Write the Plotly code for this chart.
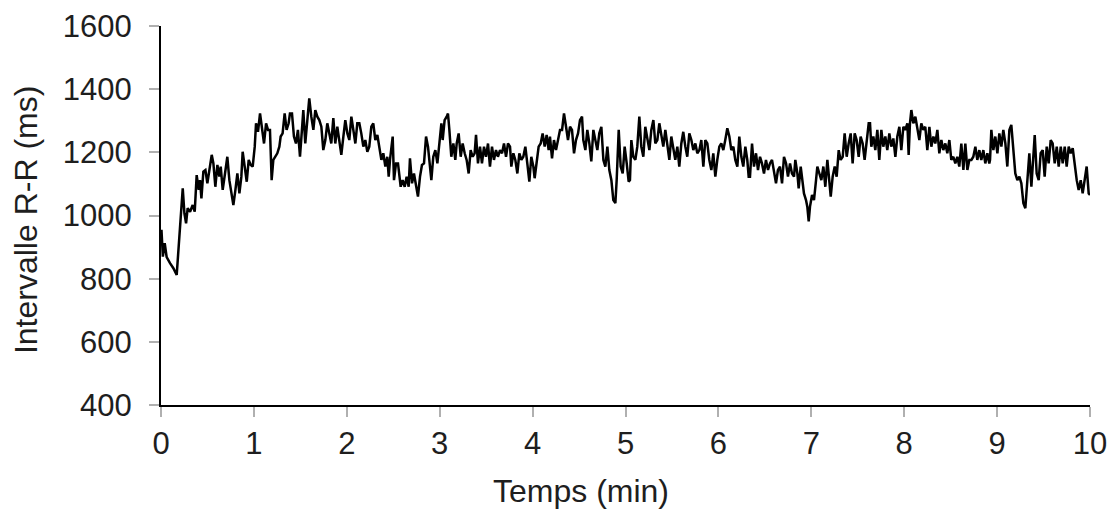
import plotly.graph_objects as go

# Time (min) and R-R interval (ms)
time_min = [
    0.005, 0.020, 0.040, 0.061, 0.097, 0.133, 0.169, 0.198, 0.234, 0.252, 0.270, 0.287,
    0.313, 0.341, 0.363, 0.384, 0.406, 0.420, 0.435, 0.456, 0.478, 0.499, 0.521, 0.546,
    0.564, 0.585, 0.607, 0.628, 0.643, 0.664, 0.689, 0.714, 0.736, 0.757, 0.779, 0.801,
    0.822, 0.844, 0.865, 0.879, 0.901, 0.923, 0.944, 0.966, 0.987, 1.009, 1.023, 1.044,
    1.066, 1.088, 1.109, 1.131, 1.152,
    1.173, 1.191, 1.209, 1.227, 1.252, 1.274, 1.288, 1.309, 1.331, 1.352, 1.374, 1.388,
    1.410, 1.431, 1.453, 1.474, 1.496, 1.517, 1.532, 1.553, 1.575, 1.596, 1.618, 1.640,
    1.661, 1.683, 1.704, 1.726, 1.747, 1.769, 1.790, 1.812, 1.833, 1.855, 1.876, 1.898,
    1.920, 1.941, 1.963, 1.984, 2.006, 2.027, 2.049, 2.070, 2.092, 2.113, 2.135, 2.156,
    2.178, 2.199, 2.221, 2.242, 2.264, 2.285, 2.307, 2.329, 2.350, 2.372, 2.393, 2.415,
    2.436, 2.451,
    2.465, 2.494, 2.508, 2.530, 2.551, 2.566, 2.580, 2.601, 2.623, 2.644, 2.666, 2.680,
    2.702, 2.723, 2.745, 2.766, 2.788, 2.809, 2.831, 2.853, 2.874, 2.896, 2.910, 2.931,
    2.953, 2.975, 2.996, 3.018, 3.032, 3.053, 3.075, 3.089, 3.104, 3.125, 3.147, 3.168,
    3.183, 3.204, 3.226, 3.247, 3.269, 3.290, 3.312, 3.333, 3.355, 3.376, 3.391, 3.412,
    3.434, 3.455, 3.477, 3.498, 3.520, 3.541, 3.563, 3.584, 3.606, 3.627, 3.649, 3.671,
    3.692, 3.714, 3.735,
    3.757, 3.771, 3.793, 3.814, 3.836, 3.857, 3.879, 3.900, 3.922, 3.943, 3.965, 3.986,
    4.008, 4.022, 4.044, 4.065, 4.087, 4.108, 4.130, 4.151, 4.173, 4.187, 4.209, 4.230,
    4.252, 4.274, 4.295, 4.317, 4.338, 4.360, 4.381, 4.403, 4.424, 4.446, 4.467, 4.489,
    4.510, 4.532, 4.546, 4.568, 4.589, 4.611, 4.632, 4.654, 4.675, 4.697, 4.718, 4.740,
    4.762, 4.783, 4.805, 4.826, 4.848, 4.869, 4.891, 4.905, 4.927, 4.948, 4.970, 4.991,
    5.013, 5.034,
    5.048, 5.063, 5.084, 5.106, 5.127, 5.149, 5.170, 5.192, 5.213, 5.235, 5.257, 5.278,
    5.300, 5.321, 5.343, 5.364, 5.386, 5.407, 5.429, 5.450, 5.472, 5.493, 5.515, 5.536,
    5.558, 5.579, 5.601, 5.622, 5.644, 5.665, 5.687, 5.709, 5.730, 5.752, 5.773, 5.795,
    5.816, 5.838, 5.859, 5.881, 5.902, 5.924, 5.945, 5.967, 5.988, 6.010, 6.031, 6.053,
    6.074, 6.096, 6.118, 6.139, 6.161, 6.182, 6.204, 6.225, 6.247, 6.268, 6.290, 6.311,
    6.326,
    6.340, 6.362, 6.383, 6.405, 6.426, 6.448, 6.469, 6.491, 6.512, 6.534, 6.555, 6.577,
    6.598, 6.620, 6.641, 6.663, 6.685, 6.706, 6.728, 6.749, 6.771, 6.792, 6.814, 6.828,
    6.850, 6.864, 6.886, 6.900, 6.921, 6.943, 6.957, 6.972, 6.986, 7.008, 7.029, 7.051,
    7.065, 7.087, 7.108, 7.130, 7.151, 7.173, 7.194, 7.209, 7.230, 7.252, 7.273, 7.295,
    7.316, 7.338, 7.359, 7.381, 7.402, 7.424, 7.445, 7.467, 7.488, 7.510, 7.531, 7.553,
    7.574, 7.596, 7.618,
    7.632, 7.646, 7.668, 7.689, 7.711, 7.732, 7.754, 7.775, 7.797, 7.818, 7.840, 7.861,
    7.883, 7.905, 7.926, 7.948, 7.969, 7.991, 8.012, 8.034, 8.048, 8.062, 8.077, 8.098,
    8.120, 8.141, 8.163, 8.184, 8.206, 8.227, 8.249, 8.271, 8.292, 8.314, 8.335, 8.357,
    8.378, 8.400, 8.421, 8.443, 8.464, 8.486, 8.507, 8.529, 8.550, 8.572, 8.593, 8.615,
    8.637, 8.658, 8.680, 8.701, 8.723, 8.744, 8.766, 8.787, 8.809, 8.830, 8.852, 8.873,
    8.895, 8.916,
    8.924, 8.938, 8.960, 8.981, 9.003, 9.024, 9.046, 9.067, 9.089, 9.110, 9.132, 9.153,
    9.175, 9.196, 9.218, 9.240, 9.261, 9.283, 9.304, 9.326, 9.347, 9.369, 9.390, 9.405,
    9.426, 9.448, 9.469, 9.491, 9.512, 9.534, 9.555, 9.577, 9.598, 9.620, 9.642, 9.663,
    9.685, 9.706, 9.728, 9.749, 9.771, 9.792, 9.814, 9.835, 9.857, 9.878, 9.900, 9.921,
    9.943, 9.964, 9.986, 10.000,
]

rr_ms = [
    955, 870, 912, 868, 849, 833, 812, 933, 1086, 1007, 975, 1023,
    1012, 1033, 1012, 1128, 1081, 1112, 1054, 1139, 1144, 1102, 1149, 1192,
    1165, 1091, 1160, 1123, 1155, 1081, 1133, 1186, 1112, 1070, 1033, 1081,
    1133, 1070, 1123, 1202, 1155, 1107, 1176, 1160, 1155, 1218, 1292, 1265,
    1323, 1281, 1228, 1292, 1271,
    1271, 1112, 1176, 1186, 1197, 1218, 1250, 1260, 1323, 1271, 1292, 1323,
    1323, 1250, 1228, 1271, 1186, 1271, 1334, 1228, 1292, 1371, 1313, 1271,
    1334, 1313, 1302, 1281, 1207, 1239, 1292, 1260, 1228, 1308, 1228, 1281,
    1228, 1192, 1250, 1302, 1260, 1239, 1313, 1271, 1228, 1292, 1292, 1260,
    1218, 1239, 1202, 1218, 1281, 1292, 1239, 1255, 1218, 1176, 1197, 1155,
    1186, 1123,
    1176, 1250, 1112, 1165, 1165, 1133, 1091, 1112, 1091, 1123, 1091, 1181,
    1102, 1133, 1091, 1060, 1123, 1160, 1165, 1250, 1218, 1155, 1112, 1186,
    1207, 1165, 1218, 1292, 1239, 1302, 1313, 1323, 1271, 1186, 1228, 1176,
    1228, 1260, 1186, 1228, 1197, 1176, 1133, 1207, 1186, 1197, 1255, 1165,
    1218, 1165, 1218, 1186, 1228, 1155, 1218, 1176, 1207, 1186, 1207, 1197,
    1228, 1186, 1228,
    1218, 1155, 1197, 1176, 1133, 1197, 1176, 1186, 1218, 1165, 1107, 1186,
    1155, 1118, 1176, 1218, 1228, 1260, 1218, 1255, 1207, 1250, 1181, 1239,
    1207, 1239, 1271, 1271, 1323, 1281, 1239, 1281, 1271, 1197, 1239, 1260,
    1302, 1313, 1239, 1207, 1271, 1228, 1171, 1271, 1239, 1207, 1260, 1281,
    1176, 1155, 1218, 1144, 1112, 1049, 1039, 1112, 1271, 1155, 1133, 1218,
    1165, 1107,
    1112, 1239, 1186, 1176, 1218, 1313, 1218, 1186, 1281, 1239, 1207, 1271,
    1302, 1228, 1239, 1292, 1250, 1218, 1271, 1218, 1176, 1250, 1218, 1176,
    1218, 1155, 1228, 1265, 1218, 1186, 1260, 1239, 1207, 1228, 1197, 1207,
    1239, 1155, 1239, 1228, 1176, 1144, 1197, 1123, 1176, 1218, 1228, 1207,
    1239, 1276, 1250, 1207, 1218, 1176, 1155, 1250, 1186, 1155, 1218, 1176,
    1123,
    1123, 1228, 1155, 1197, 1144, 1186, 1165, 1133, 1176, 1144, 1165, 1176,
    1133, 1102, 1144, 1155, 1102, 1186, 1165, 1123, 1165, 1133, 1123, 1176,
    1133, 1086, 1155, 1112, 1070, 1049, 1028, 981, 1028, 1065, 1049, 1112,
    1155, 1133, 1112, 1155, 1091, 1176, 1112, 1060, 1123, 1155, 1123, 1207,
    1176, 1186, 1260, 1186, 1228, 1260, 1165, 1260, 1239, 1186, 1250, 1228,
    1176, 1239, 1292,
    1292, 1218, 1250, 1207, 1271, 1176, 1271, 1218, 1250, 1207, 1260, 1218,
    1244, 1186, 1250, 1281, 1207, 1281, 1271, 1292, 1192, 1292, 1334, 1292,
    1313, 1281, 1239, 1292, 1271, 1281, 1207, 1281, 1218, 1250, 1228, 1271,
    1197, 1239, 1207, 1228, 1197, 1239, 1176, 1186, 1165, 1186, 1155, 1228,
    1144, 1228, 1144, 1176, 1176, 1186, 1218, 1176, 1207, 1176, 1207, 1165,
    1197, 1165,
    1176, 1271, 1207, 1250, 1197, 1260, 1218, 1271, 1228, 1155, 1271, 1287,
    1207, 1133, 1112, 1123, 1102, 1039, 1023, 1112, 1197, 1091, 1176, 1255,
    1133, 1112, 1197, 1207, 1123, 1218, 1165, 1239, 1228, 1165, 1218, 1155,
    1218, 1165, 1218, 1155, 1218, 1197, 1213, 1155, 1112, 1081, 1112, 1070,
    1112, 1155, 1070, 1065,
]

x_ticks = [0, 1, 2, 3, 4, 5, 6, 7, 8, 9, 10]
y_ticks = [400, 600, 800, 1000, 1200, 1400, 1600]
x_title = "Temps (min)"
y_title = "Intervalle R-R (ms)"

FONT = "Liberation Sans, Arial, sans-serif"
TXT = "#1e1e1e"

fig = go.Figure(
    go.Scatter(
        x=time_min, y=rr_ms, mode="lines",
        line=dict(color="black", width=2.5),
        hoverinfo="x+y", showlegend=False,
    )
)

axis_common = dict(
    showline=True, linecolor="black", linewidth=2,
    ticks="outside", ticklen=10, tickwidth=2, tickcolor="#b0b0b0",
    showgrid=False, zeroline=False, automargin=False,
    tickfont=dict(family=FONT, size=31, color=TXT),
)

fig.update_xaxes(range=[0, 10], tickvals=x_ticks, **axis_common)
fig.update_yaxes(range=[400, 1600], tickvals=y_ticks, ticklabelstandoff=11,
                 **axis_common)

fig.update_layout(
    width=1116, height=510,
    margin=dict(l=161, r=26, t=26, b=105),
    plot_bgcolor="white", paper_bgcolor="white",
    font=dict(family=FONT, size=31, color=TXT),
    annotations=[
        dict(text=x_title, xref="paper", yref="paper", x=0.4516, y=-0.226,
             xanchor="center", yanchor="middle", showarrow=False,
             font=dict(family=FONT, size=32, color=TXT)),
        dict(text=y_title, xref="paper", yref="paper", x=-0.1453, y=0.488,
             xanchor="center", yanchor="middle", textangle=-90, showarrow=False,
             font=dict(family=FONT, size=32, color=TXT)),
    ],
)

fig.write_html(
    "out.html",
    config={"displayModeBar": False},
    post_script="document.body.style.margin='0';document.body.style.overflow='hidden';",
)
